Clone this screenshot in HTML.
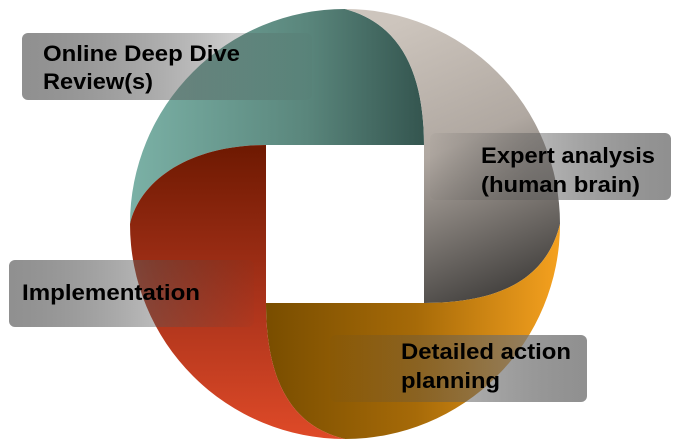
<!DOCTYPE html>
<html><head><meta charset="utf-8"><style>
html,body{margin:0;padding:0;background:#fff;}
svg{display:block}
text{font-family:"Liberation Sans",Arial,sans-serif;font-weight:bold;font-size:22px;fill:#000}
</style></head><body>
<svg width="683" height="448" viewBox="0 0 683 448">
<defs>
<linearGradient id="gT" x1="130" y1="0" x2="424" y2="0" gradientUnits="userSpaceOnUse">
<stop offset="0" stop-color="#7bb1a6"/><stop offset="0.6" stop-color="#5a867c"/><stop offset="1" stop-color="#34554f"/></linearGradient>
<linearGradient id="gG" x1="400" y1="20" x2="520" y2="300" gradientUnits="userSpaceOnUse">
<stop offset="0" stop-color="#cdc5bd"/><stop offset="0.45" stop-color="#b0a8a1"/><stop offset="1" stop-color="#3c3a38"/></linearGradient>
<linearGradient id="gO" x1="270" y1="0" x2="560" y2="0" gradientUnits="userSpaceOnUse">
<stop offset="0" stop-color="#7a4e00"/><stop offset="0.5" stop-color="#a66a08"/><stop offset="1" stop-color="#f5a11f"/></linearGradient>
<linearGradient id="gR" x1="0" y1="150" x2="0" y2="440" gradientUnits="userSpaceOnUse">
<stop offset="0" stop-color="#701a02"/><stop offset="0.5" stop-color="#a8321a"/><stop offset="1" stop-color="#df4a28"/></linearGradient>
<linearGradient id="bL" x1="0" y1="0" x2="1" y2="0">
<stop offset="0" stop-color="#8a8a8a" stop-opacity="0.95"/><stop offset="0.6" stop-color="#555" stop-opacity="0.4"/><stop offset="1" stop-color="#444" stop-opacity="0.03"/></linearGradient>
<linearGradient id="bR" x1="0" y1="0" x2="1" y2="0">
<stop offset="0" stop-color="#444" stop-opacity="0.03"/><stop offset="0.4" stop-color="#555" stop-opacity="0.4"/><stop offset="1" stop-color="#8a8a8a" stop-opacity="0.95"/></linearGradient>
</defs>
<path d="M130,224 A215,215 0 0 1 345,9 C405,25 424,80 424,145 L266,145 C190,145 140,180 130,224 Z" fill="url(#gT)"/>
<path d="M345,9 A215,215 0 0 1 560,224 C545,285 490,303 424,303 L424,145 C424,80 405,25 345,9 Z" fill="url(#gG)"/>
<path d="M560,224 A215,215 0 0 1 345,439 C285,425 266,370 266,303 L424,303 C490,303 545,285 560,224 Z" fill="url(#gO)"/>
<path d="M345,439 A215,215 0 0 1 130,224 C140,180 190,145 266,145 L266,303 C266,370 285,425 345,439 Z" fill="url(#gR)"/>

<rect x="22" y="33" width="290" height="67" rx="6" fill="url(#bL)"/>
<rect x="430" y="133" width="241" height="67" rx="6" fill="url(#bR)"/>
<rect x="9" y="260" width="245" height="67" rx="6" fill="url(#bL)"/>
<rect x="330" y="335" width="257" height="67" rx="6" fill="url(#bR)"/>

<text x="43" y="61" textLength="197" lengthAdjust="spacingAndGlyphs">Online Deep Dive</text>
<text x="43" y="89" textLength="110" lengthAdjust="spacingAndGlyphs">Review(s)</text>
<text x="481" y="163" textLength="174" lengthAdjust="spacingAndGlyphs">Expert analysis</text>
<text x="481" y="192" textLength="159" lengthAdjust="spacingAndGlyphs">(human brain)</text>
<text x="22" y="300" textLength="178" lengthAdjust="spacingAndGlyphs">Implementation</text>
<text x="401" y="359" textLength="170" lengthAdjust="spacingAndGlyphs">Detailed action</text>
<text x="401" y="388" textLength="99" lengthAdjust="spacingAndGlyphs">planning</text>
</svg>
</body></html>
